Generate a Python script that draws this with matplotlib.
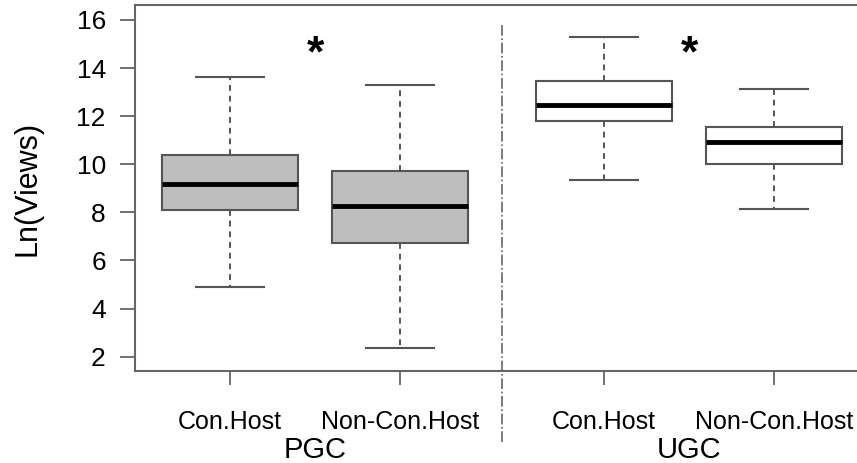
import matplotlib
matplotlib.use('Agg')
import matplotlib.pyplot as plt

plt.rcParams['font.family'] = ['Liberation Sans', 'DejaVu Sans']

# box summaries
groups = ['PGC', 'UGC']
hosts = ['Con.Host', 'Non-Con.Host', 'Con.Host', 'Non-Con.Host']
whislo = [4.89, 2.37, 9.33, 8.13]
q1 = [8.09, 6.71, 11.81, 10.01]
med = [9.19, 8.27, 12.47, 10.91]
q3 = [10.39, 9.71, 13.48, 11.55]
whishi = [13.63, 13.30, 15.28, 13.14]
fills = ['#bebebe', '#bebebe', 'white', 'white']
pos = [1, 2, 3.2, 4.2]

stats = []
for i in range(len(med)):
    stats.append({'whislo': whislo[i], 'q1': q1[i], 'med': med[i],
                  'q3': q3[i], 'whishi': whishi[i], 'fliers': []})

fig = plt.figure(figsize=(8.57, 4.63), dpi=100)
ax = fig.add_axes([135/857, 1 - 371/463, 1 - 135/857, (371 - 5)/463])

edge = '#555555'
bp = ax.bxp(stats, positions=pos, widths=0.8, patch_artist=True,
            showfliers=False,
            boxprops=dict(edgecolor=edge, linewidth=1.5),
            whiskerprops=dict(color=edge, linewidth=1.4, linestyle=(0, (3, 2.5))),
            capprops=dict(color=edge, linewidth=1.5),
            medianprops=dict(color='black', linewidth=3.5),
            capwidths=0.4)
for patch, c in zip(bp['boxes'], fills):
    patch.set_facecolor(c)

ax.set_xlim(0.441, 4.688)
ax.set_ylim(1.405, 16.62)
ax.set_yticks([2, 4, 6, 8, 10, 12, 14, 16])
ax.set_xticks(pos)
ax.set_xticklabels(hosts)

for s in ['left', 'bottom', 'top']:
    ax.spines[s].set_color('#666666')
    ax.spines[s].set_linewidth(1.5)
ax.spines['right'].set_visible(False)
ax.tick_params(axis='y', length=11, width=1.3, color='#666666', pad=10, labelsize=19)
ax.tick_params(axis='x', length=10, width=1.3, color='#666666', pad=18, labelsize=18)
ax.set_ylabel('Ln(Views)', fontsize=22)
ax.yaxis.set_label_coords(-0.128, 0.5)

# group labels under the ticks
for g, x in zip(groups, [(pos[0] + pos[1]) / 2, (pos[2] + pos[3]) / 2]):
    ax.text(x, -0.216, g, transform=ax.get_xaxis_transform(), ha='center',
            va='center', fontsize=21)

# divider between groups
ax.axvline((pos[1] + pos[2]) / 2, ymin=-0.194, ymax=0.951, color='#666666',
           linewidth=1.2, linestyle='-.', clip_on=False)

# significance stars
for x in [(pos[0] + pos[1]) / 2, (pos[2] + pos[3]) / 2]:
    ax.text(x, 14.55, '*', ha='center', va='center', fontsize=32,
            fontweight='bold')

fig.savefig('out.png', dpi=100)
